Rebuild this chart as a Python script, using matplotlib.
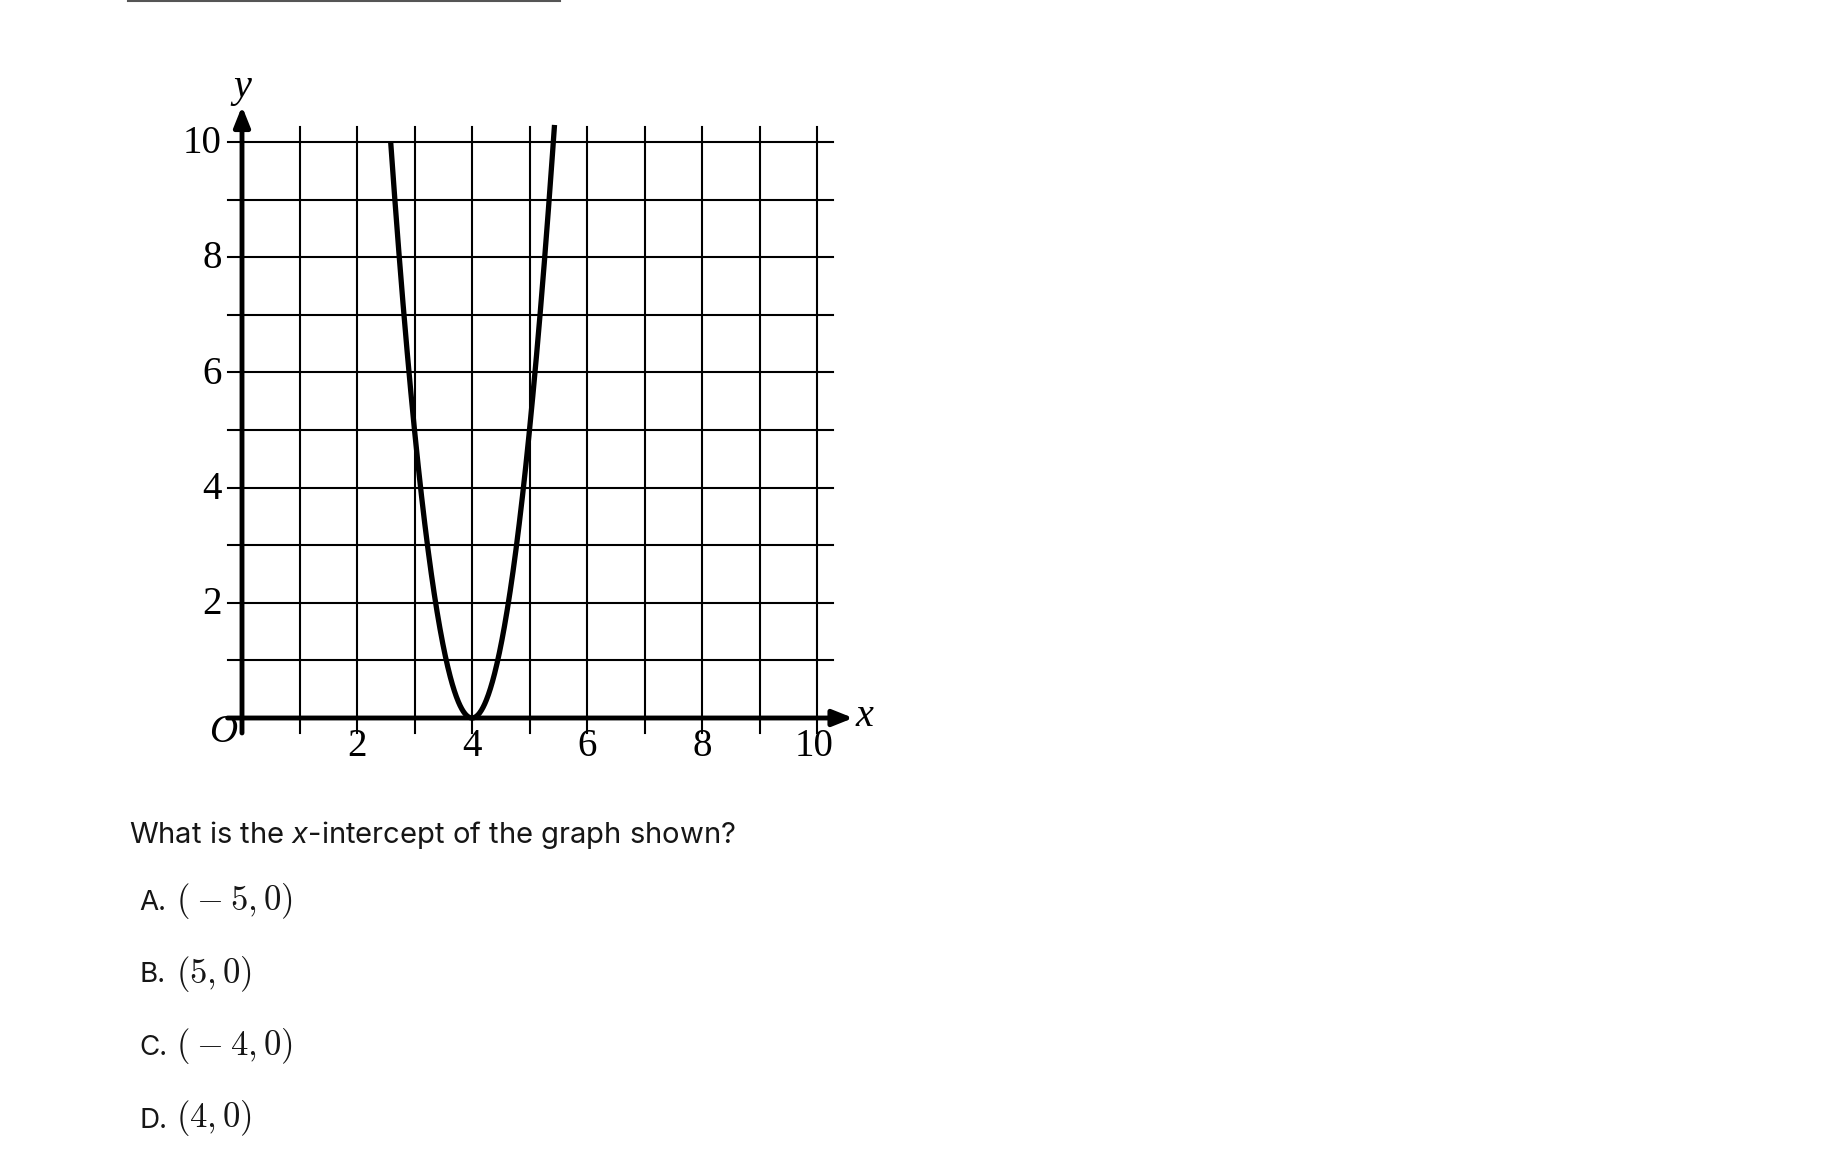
import matplotlib
matplotlib.use('Agg')
import matplotlib.pyplot as plt
from matplotlib.lines import Line2D
import numpy as np

# Chart content
x_ticks = [2, 4, 6, 8, 10]
y_ticks = [2, 4, 6, 8, 10]
grid_values = list(range(1, 11))
vertex = (4, 0)          # parabola vertex
a_coef = 5               # passes through (3, 5) and (5, 5)
curve_x_range = (2.586, 5.435)

question = "What is the $x$-intercept of the graph shown?"
option_letters = ['A.', 'B.', 'C.', 'D.']
option_values = [r'$(\:-\:5,0)$', r'$(5,0)$', r'$(\:-\:4,0)$', r'$(4,0)$']

plt.rcParams.update({
    'mathtext.fontset': 'custom',
    'mathtext.it': 'Inter:italic',
    'mathtext.rm': 'Inter',
})

W, H = 1836, 1165
fig = plt.figure(figsize=(W / 100, H / 100), dpi=100)
fig.patch.set_facecolor('white')

# pixel helpers for figure placement
def fx(px):
    return px / W

def fy(py):
    return 1 - py / H

# faint rule at the very top
fig.add_artist(Line2D([fx(128), fx(560)], [fy(0.8), fy(0.8)], color='#555555', lw=1.5))

# graph axes: x 0..10 -> 242..817 px, y 0..10 -> 718..142 px
ax = fig.add_axes([fx(242), fy(718), (817 - 242) / W, (718 - 142) / H])
ax.set_xlim(0, 10)
ax.set_ylim(0, 10)
ax.axis('off')

# grid
for v in grid_values:
    ax.plot([v, v], [-0.26, 10.26], color='black', lw=1.5, clip_on=False, zorder=1)
    ax.plot([-0.25, 10.28], [v, v], color='black', lw=1.5, clip_on=False, zorder=1)

# axes with arrows
arrow_kw = dict(arrowstyle='-|>,head_length=0.55,head_width=0.22', lw=3.5,
                color='black', shrinkA=0, shrinkB=0, mutation_scale=22)
ax.annotate('', xy=(10.63, 0), xytext=(-0.25, 0), arrowprops=arrow_kw,
            annotation_clip=False, zorder=3)
ax.annotate('', xy=(0, 10.62), xytext=(0, -0.26), arrowprops=arrow_kw,
            annotation_clip=False, zorder=3)

# parabola
xs = np.linspace(curve_x_range[0], curve_x_range[1], 400)
ys = a_coef * (xs - vertex[0]) ** 2
ax.plot(xs, ys, color='black', lw=3.8, clip_on=False, zorder=4,
        solid_capstyle='butt')

serif = 'Liberation Serif'
for t in x_ticks:
    ax.text(t - (0.05 if t == 10 else 0), -0.5, str(t), ha='center', va='center',
            fontsize=28, family=serif)
for t in y_ticks:
    ax.text(-0.35, t - 0.03, str(t), ha='right', va='center', fontsize=28, family=serif)
ax.text(-0.33, -0.26, 'O', ha='center', va='center', fontsize=28,
        family=serif, style='italic')
ax.text(10.83, 0.02, 'x', ha='center', va='center', fontsize=29,
        family=serif, style='italic')
ax.text(0.0, 10.95, 'y', ha='center', va='center', fontsize=29,
        family=serif, style='italic')

# question and choices
ink = '#161616'
fig.text(fx(129), fy(843), question, ha='left', va='baseline', fontsize=21,
         family='Inter', color=ink, math_fontfamily='custom')
for i, (lab, val) in enumerate(zip(option_letters, option_values)):
    base = 910 + i * 72.5
    fig.text(fx(139), fy(base), lab, ha='left', va='baseline', fontsize=20,
             family='Inter', color=ink)
    fig.text(fx(176), fy(base), val, ha='left', va='baseline', fontsize=25,
             color=ink, math_fontfamily='cm')

fig.savefig('out.png', dpi=100, facecolor='white')
